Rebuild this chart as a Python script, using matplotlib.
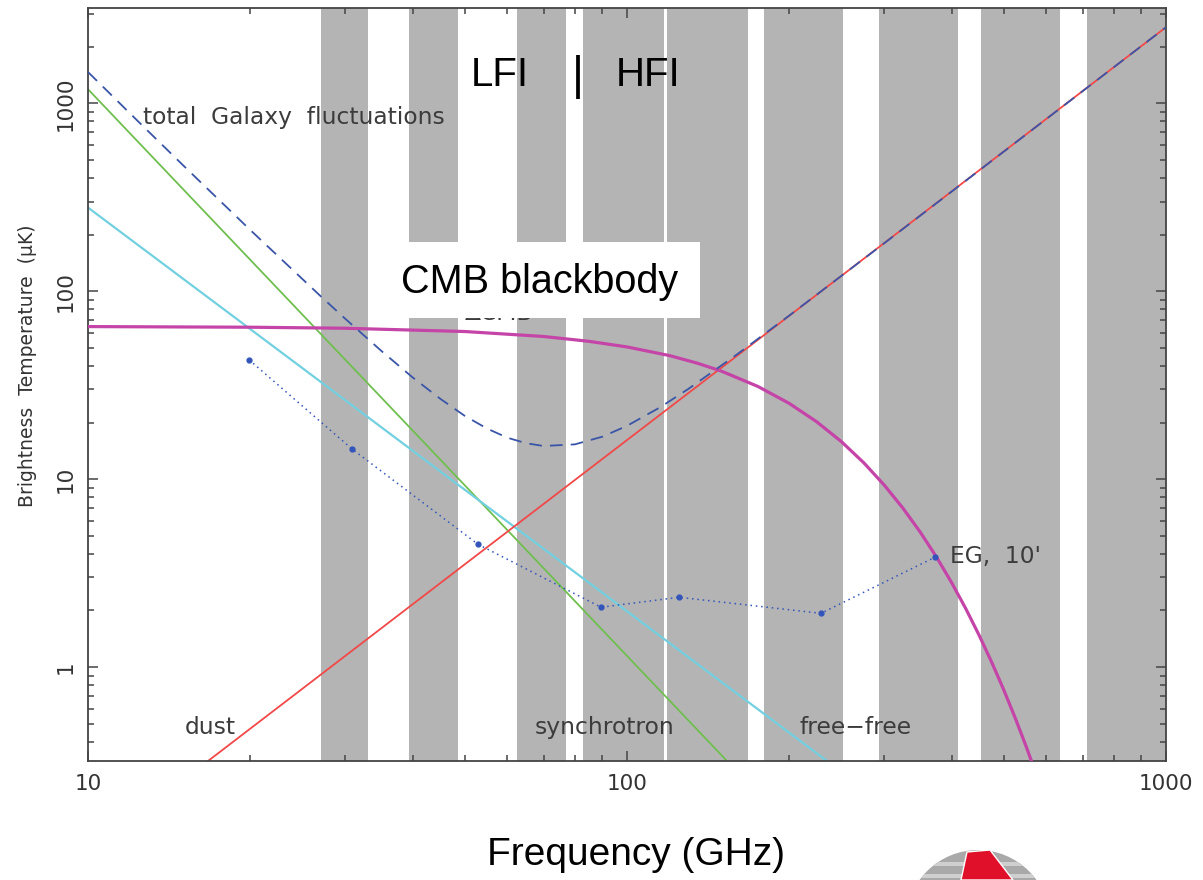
"""
Foreground brightness temperature vs frequency with the LFI/HFI bands shaded.
Writes out.png.
"""
import matplotlib
matplotlib.use("Agg")
import matplotlib.pyplot as plt
from matplotlib.patches import Circle, Polygon, Rectangle
from matplotlib.transforms import Bbox
from matplotlib.ticker import FixedLocator, LogLocator, NullFormatter

W, H = 1203, 880

# instrument bands (GHz)
BANDS = [(27.0, 33.1), (39.4, 48.6), (62.5, 77.1), (82.8, 117.1),
         (118.7, 167.7), (179.6, 251.6), (293.5, 411.3), (453.9, 635.6),
         (713.6, 1100.0)]

# power-law foregrounds, end points (GHz, uK)
DUST_NU = [16.7, 1000.0]
DUST_T = [0.316, 2540.0]
SYNC_NU = [10.0, 153.3]
SYNC_T = [1188.0, 0.316]
FF_NU = [10.0, 235.0]
FF_T = [278.6, 0.316]

# total Galaxy fluctuations
GAL_NU = [10, 12.5, 15, 20, 27, 30, 35, 40, 45, 50, 55, 60, 65, 70, 80, 90,
          100, 115, 130, 160, 200, 300, 500, 1000]
GAL_T = [1466.7, 780.9, 468.7, 211.7, 94.2, 71.4, 48.15, 34.8, 26.8, 21.7,
         18.57, 16.6, 15.52, 15.0, 15.3, 16.81, 19.2, 24.03, 30.2, 46.1, 74.2,
         179.8, 552.9, 2540.0]

# CMB blackbody fluctuations
CMB_NU = [10, 20, 30, 50, 70, 85, 100, 120, 135, 150, 175, 200, 225, 250, 275,
          300, 325, 350, 375, 400, 425, 450, 475, 500, 525, 550, 575, 600]
CMB_T = [64.8, 64.3, 63.5, 61.0, 57.4, 54.1, 50.5, 45.4, 41.4, 37.45, 31.1,
         25.28, 20.16, 15.81, 12.21, 9.30, 7.005, 5.22, 3.852, 2.818, 2.048,
         1.477, 1.059, 0.756, 0.536, 0.379, 0.2665, 0.187]

# extragalactic sources, 10' beam
EG_NU = [19.9, 30.9, 52.9, 89.5, 124.9, 229.0, 372.8]
EG_T = [43.1, 14.45, 4.50, 2.08, 2.35, 1.93, 3.84]

XLIM = (10, 1000)
YLIM = (0.316, 3214)

fig = plt.figure(figsize=(W / 100, H / 100), dpi=100)
ax = fig.add_axes([88 / W, 1 - 761 / H, (1166 - 88) / W, (761 - 8) / H])
ax.set_xscale("log")
ax.set_yscale("log")
ax.set_xlim(*XLIM)
ax.set_ylim(*YLIM)

for lo, hi in BANDS:
    ax.axvspan(lo, hi, color="#b4b4b4", lw=0, zorder=0)

ax.plot(SYNC_NU, SYNC_T, color="#6fbf4f", lw=1.3, zorder=2)
ax.plot(FF_NU, FF_T, color="#72d0e0", lw=1.6, zorder=2)
ax.plot(DUST_NU, DUST_T, color="#f24848", lw=1.3, zorder=2)
ax.plot(CMB_NU, CMB_T, color="#c544a8", lw=2.3, zorder=3)
ax.plot(GAL_NU, GAL_T, color="#3a55a8", lw=1.3, ls=(0, (7, 4.5)), zorder=3)
ax.plot(EG_NU, EG_T, color="#3355bb", lw=1.1, ls=(0, (1, 2.5)),
        marker="o", ms=3.5, zorder=4)

# in-plot labels
lab = dict(fontsize=16.8, color="#3c3c3c", va="center", ha="left", zorder=5)
ax.text(12.65, 841, "total  Galaxy  fluctuations", **lab)
ax.text(15.1, 0.476, "dust", **lab)
ax.text(67.5, 0.476, "synchrotron", **lab)
ax.text(209, 0.476, "free\u2212free", **lab)
ax.text(397, 3.88, "EG,  10'", **lab)
# label sitting under the CMB blackbody box, only its lower edge shows
hidden = ax.text(50.1, 76.5, "\u0394CMB", **lab)
hidden.set_clip_box(Bbox.from_extents(0, 0, W, H - 318))

# frame and ticks
for sp in ax.spines.values():
    sp.set_color("#444444")
    sp.set_linewidth(1.3)
ax.xaxis.set_major_locator(FixedLocator([10, 100, 1000]))
ax.yaxis.set_major_locator(FixedLocator([1, 10, 100, 1000]))
ax.xaxis.set_minor_locator(LogLocator(base=10, subs=range(2, 10)))
ax.yaxis.set_minor_locator(LogLocator(base=10, subs=range(2, 10)))
ax.xaxis.set_minor_formatter(NullFormatter())
ax.yaxis.set_minor_formatter(NullFormatter())
ax.set_xticklabels(["10", "100", "1000"])
ax.set_yticklabels(["1", "10", "100", "1000"], rotation=90, va="center")
ax.tick_params(which="both", direction="in", top=True, right=True,
               color="#444444", width=1.1, labelsize=15.5, labelcolor="#333333")
ax.tick_params(which="major", length=7.5, pad=9)
ax.tick_params(which="minor", length=4.5)

fig.text(28 / W, 1 - 366 / H, "Brightness  Temperature  (\u03bcK)", rotation=90,
         ha="center", va="center", fontsize=13.5, color="#333333")

# slide annotations
big = ["Liberation Sans", "DejaVu Sans"]
fig.text(500 / W, 1 - 75 / H, "LFI", family=big, fontsize=29,
         ha="center", va="center")
fig.text(578 / W, 1 - 77 / H, "|", family=big, fontsize=33,
         ha="center", va="center")
fig.text(648 / W, 1 - 75 / H, "HFI", family=big, fontsize=29,
         ha="center", va="center")

fig.add_artist(Rectangle((393 / W, 1 - 318 / H), 307 / W, 76 / H,
                         transform=fig.transFigure, facecolor="white",
                         edgecolor="none", zorder=5))
fig.text(540 / W, 1 - 282 / H, "CMB blackbody", family=big, fontsize=28.5,
         ha="center", va="center", zorder=6)

fig.text(636 / W, 1 - 855 / H, "Frequency (GHz)", family=big, fontsize=28,
         ha="center", va="center")

# Planck logo, cut by the lower edge
logo = Circle((978, H - 922), 72, transform=None, facecolor="#a9a9a9",
              edgecolor="none", zorder=5)
fig.add_artist(logo)
for y0 in (862, 874):
    fig.add_artist(Rectangle((912, H - y0 - 4), 132, 4, transform=None,
                             facecolor="#cfcfcf", edgecolor="none", zorder=5,
                             clip_path=logo))
red = Polygon([(961, H - 880), (967, H - 852), (990, H - 850), (1013, H - 880)],
              closed=True, transform=None, facecolor="#e0102a",
              edgecolor="white", lw=1.0, zorder=6)
fig.add_artist(red)

fig.savefig("out.png", dpi=100)
